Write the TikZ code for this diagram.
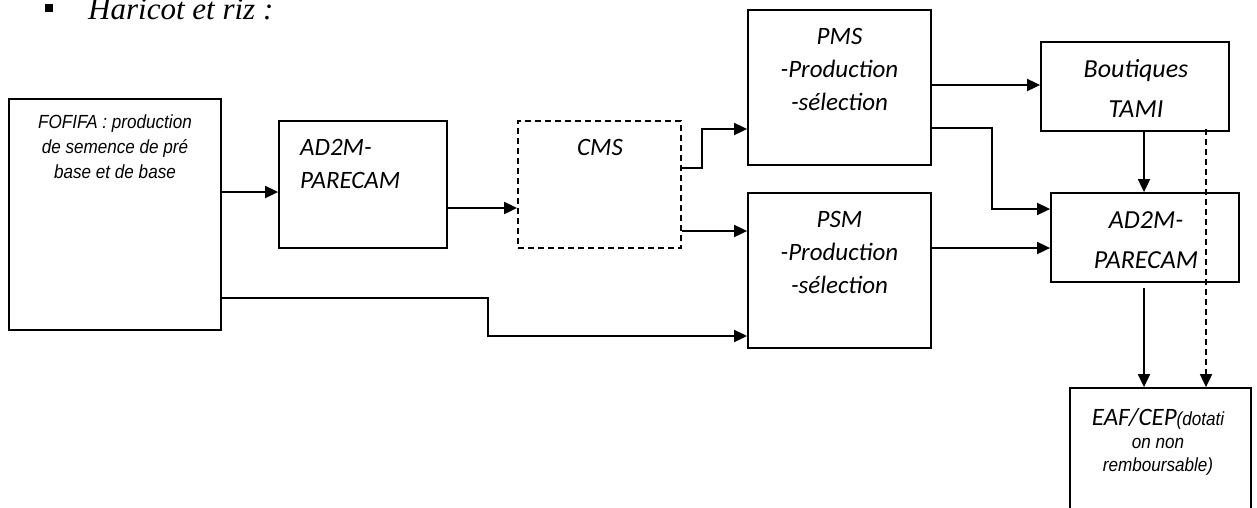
\documentclass[tikz,border=0pt]{standalone}
\usepackage{fontspec}
\setmainfont{Carlito}
\newfontfamily\arialfont[FakeStretch=0.9]{Liberation Sans}
\newfontfamily\timesfont{Liberation Serif}
\usetikzlibrary{arrows.meta}

\tikzset{
  box/.style={draw, line width=1.8pt, inner sep=0pt},
  dashbox/.style={box, dash pattern=on 6pt off 4pt},
  txt/.style={anchor=base, align=center, inner sep=0pt, font=\itshape\fontsize{25}{33}\selectfont},
  smalltxt/.style={anchor=base, align=center, inner sep=0pt, font=\arialfont\itshape\fontsize{19}{25}\selectfont},
  arr/.style={line width=1.8pt, -{Triangle[length=13pt,width=12pt]}},
  dasharr/.style={arr, dash pattern=on 6pt off 4pt}
}

\begin{document}
\begin{tikzpicture}[x=1pt, y=-1pt]
  \useasboundingbox (0,0) rectangle (1257,507);
  % titre
  \node[fill, minimum width=8pt, minimum height=8pt, inner sep=0pt] (puce) at (48.5,8) {};
  \node[anchor=base west, inner sep=0pt, font=\timesfont\itshape\fontsize{31}{31}\selectfont] (titre) at (88,19) {Haricot et riz :};

  % boites
  \node[box, minimum width=212pt, minimum height=231pt] (fofifa) at (115,214.5) {};
  \node[box, minimum width=168pt, minimum height=127pt] (adA) at (363,184.5) {};
  \node[dashbox, minimum width=163pt, minimum height=127pt] (cms) at (599.5,184.5) {};
  \node[box, minimum width=183pt, minimum height=155pt] (pms) at (839.5,87.5) {};
  \node[box, minimum width=183pt, minimum height=155pt] (psm) at (839.5,270.5) {};
  \node[box, minimum width=188pt, minimum height=89pt] (tami) at (1135,86.5) {};
  \node[box, minimum width=188pt, minimum height=89pt] (adB) at (1145,237.5) {};
  \node[box, minimum width=181pt, minimum height=142pt] (eaf) at (1160.5,459) {};

  % textes (ancre sur la derniere ligne)
  \node[smalltxt] (fofifa-t) at (115,178) {FOFIFA : production\\de semence de pré\\base et de base};
  \node[txt, anchor=base west, align=left] (adA-t) at (300,188) {AD2M-\\PARECAM};
  \node[txt] (cms-t) at (600,155) {CMS};
  \node[txt] (pms-t) at (839.5,110) {PMS\\-Production\\-sélection};
  \node[txt] (psm-t) at (839.5,293) {PSM\\-Production\\-sélection};
  \node[txt, font=\itshape\fontsize{26}{40}\selectfont] (tami-t) at (1136,117) {Boutiques\\TAMI};
  \node[txt, font=\itshape\fontsize{26}{40}\selectfont] (adB-t) at (1146,268) {AD2M-\\PARECAM};
  \node[smalltxt, font=\arialfont\itshape\fontsize{19}{23}\selectfont] (eaf-t) at (1158,471)
    {{\normalfont\itshape\fontsize{25}{25}\selectfont EAF/CEP}(dotati\\on non\\remboursable)};

  % fleches
  \coordinate (inA) at ([yshift=-7.5pt]adA.west);
  \draw[arr] (fofifa.east |- inA) -- (inA);
  \draw[arr] ([yshift=-83.5pt]fofifa.east) -- ++(266,0) |- ([yshift=-65.5pt]psm.west);
  \draw[arr] ([yshift=-23.5pt]adA.east) -- ([yshift=-23.5pt]cms.west);
  \draw[arr] ([yshift=16.5pt]cms.east) -- ++(20,0) |- ([yshift=-41.5pt]pms.west);
  \draw[arr] ([yshift=-46.5pt]cms.east) -- ([yshift=-46.5pt]cms.east -| psm.west);
  \draw[arr] ([yshift=2.5pt]pms.east) -- ([yshift=2.5pt]pms.east -| tami.west);
  \draw[arr] ([yshift=-40.5pt]pms.east) -- ++(60,0) |- ([yshift=28.5pt]adB.west);
  \draw[arr] ([yshift=22.5pt]psm.east) -- ([yshift=22.5pt]psm.east -| adB.west);
  \draw[arr] ([xshift=9pt]tami.south) -- ([xshift=9pt]tami.south |- adB.north);
  \draw[arr] ([xshift=-1pt,yshift=-5pt]adB.south) -- ([xshift=-1pt]adB.south |- eaf.north);
  \draw[dasharr] ([xshift=71pt,yshift=3pt]tami.south) -- ([xshift=71pt]tami.south |- eaf.north);
\end{tikzpicture}
\end{document}
